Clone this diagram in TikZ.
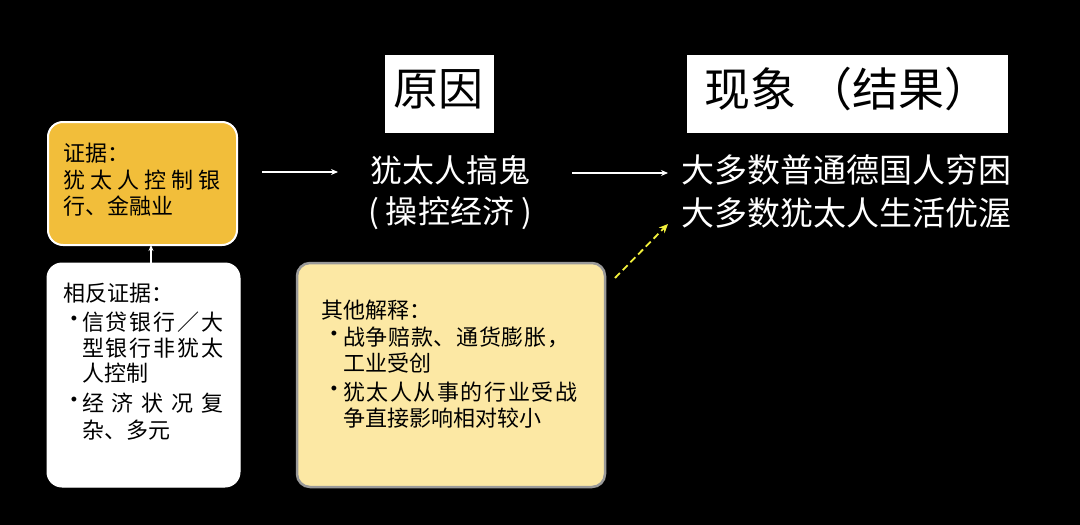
\documentclass[tikz,border=0pt]{standalone}
\usepackage{fontspec}
\setmainfont{Noto Sans CJK SC}
\newfontfamily\latinf{Liberation Sans}
\usetikzlibrary{arrows.meta}
\definecolor{evid}{HTML}{F2BE3A}
\definecolor{other}{HTML}{FCE8A4}
\definecolor{ylw}{HTML}{F2F03C}
\newcommand\spr[2]{\makebox[#1][s]{#2}}
\tikzset{
  txt/.style={inner sep=0pt, anchor=west, font=\fontsize{22}{26}\selectfont},
  bul/.style={inner sep=0pt, font=\latinf\fontsize{18}{22}\selectfont},
  bigtxt/.style={inner sep=0pt, font=\fontsize{33}{38}\selectfont, text=white},
  titlebox/.style={fill=white, draw=white, inner sep=0pt},
  conn/.style={white, line width=1.3pt, -{Stealth[length=7pt,width=6pt]}},
}
\begin{document}
\begin{tikzpicture}[x=1pt,y=-1pt]
\fill[black] (0,0) rectangle (1080,525);
\useasboundingbox (0,0) rectangle (1080,525);

% title boxes
\node[titlebox, minimum width=108pt, minimum height=77pt] (tcause) at (439,93.5) {};
\node[inner sep=0pt, font=\fontsize{45}{50}\selectfont] (tcauset) at (438,89) {原因};
\node[titlebox, minimum width=320pt, minimum height=77pt] (tres) at (847,93.5) {};
\node[inner sep=0pt, anchor=west, font=\fontsize{46}{50}\selectfont] (trest) at (704,89) {现象\hspace{10pt}（结果）};

% evidence box
\draw[fill=evid, draw=white, line width=2pt, rounded corners=15pt] (48,122) rectangle (237,245);
\coordinate (evb) at (151,245);
\node[txt] (e1) at (63,153) {证据：};
\node[txt] (e2) at (63,180) {\spr{157pt}{犹\hfil 太\hfil 人\hfil 控\hfil 制\hfil 银}};
\node[txt] (e3) at (63,206) {行、金融业};

% counter-evidence box
\draw[fill=white, draw=white, line width=1pt, rounded corners=15pt] (47,263) rectangle (240,487);
\coordinate (ctop) at (151,263);
\node[txt] (c1) at (63,293) {相反证据：};
\node[bul] (cb1) at (74,320) {•};
\node[txt] (c2) at (82,322) {\spr{141pt}{信\hfil 贷\hfil 银\hfil 行\hfil ／\hfil 大}};
\node[txt] (c3) at (82,348) {\spr{141pt}{型\hfil 银\hfil 行\hfil 非\hfil 犹\hfil 太}};
\node[txt] (c4) at (82,373) {人控制};
\node[bul] (cb2) at (74,401) {•};
\node[txt] (c5) at (82,403) {\spr{141pt}{经\hfil 济\hfil 状\hfil 况\hfil 复}};
\node[txt] (c6) at (82,430) {杂、多元};
\draw[conn, line width=1.2pt, -{Stealth[length=6pt,width=5pt]}] (ctop) -- (evb);

% other explanations box
\draw[fill=other, draw=gray!80, line width=2.5pt, rounded corners=13pt] (297,263) rectangle (605,487);
\node[txt] (o1) at (321,310) {其他解释：};
\node[bul] (ob1) at (334,335) {•};
\node[txt] (o2) at (343,337) {\spr{226pt}{战\hfil 争\hfil 赔\hfil 款\hfil 、\hfil 通\hfil 货\hfil 膨\hfil 胀\hfil ，}};
\node[txt] (o3) at (343,363) {工业受创};
\node[bul] (ob2) at (334,390) {•};
\node[txt] (o4) at (343,392) {\spr{234pt}{犹\hfil 太\hfil 人\hfil 从\hfil 事\hfil 的\hfil 行\hfil 业\hfil 受\hfil 战}};
\node[txt] (o5) at (343,418) {\spr{197pt}{争\hfil 直\hfil 接\hfil 影\hfil 响\hfil 相\hfil 对\hfil 较\hfil 小}};

% cause text
\node[bigtxt, font=\fontsize{32}{38}\selectfont] (cause1) at (450,170) {犹太人搞鬼};
\node[bigtxt, font=\fontsize{32}{38}\selectfont] (cause2) at (450,213) {( 操控经济 )};

% result text
\node[bigtxt, anchor=west] (r1) at (681,170) {大多数普通德国人穷困};
\node[bigtxt, anchor=west] (r2) at (681,213) {大多数犹太人生活优渥};

% arrows
\coordinate (a1s) at (262,172);
\coordinate (a1e) at (338,172);
\coordinate (a2s) at (572,173);
\coordinate (a2e) at (668,173);
\coordinate (ds) at (615,278);
\coordinate (de) at (668,224);
\draw[conn] (a1s) -- (a1e);
\draw[conn] (a2s) -- (a2e);
\draw[ylw, line width=1.8pt, dash pattern=on 7pt off 4pt, -{Stealth[length=9pt,width=8pt]}] (ds) -- (de);
\end{tikzpicture}
\end{document}
